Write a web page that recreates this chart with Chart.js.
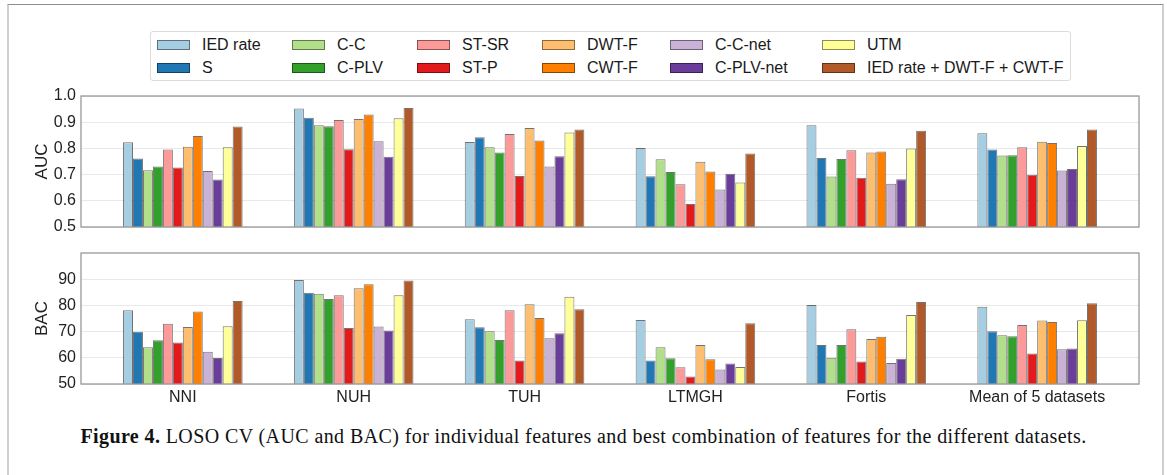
<!DOCTYPE html>
<html lang="en">
<head>
<meta charset="UTF-8">
<title>Figure 4 - LOSO CV</title>
<script src="https://cdn.jsdelivr.net/npm/chart.js"></script>
<style>
    body {
        margin: 0;
        background: #ffffff;
        font-family: 'Liberation Sans', Arial, sans-serif;
    }

    .page {
        position: relative;
        width: 1167px;
        height: 475px;
        overflow: hidden;
    }

    .frame {
        position: absolute;
        left: 7px;
        top: 4px;
        width: 1153px;
        height: 490px;
        border-top: 1px solid #8c8c8c;
        border-left: 2px solid #cfcfcf;
        border-right: 2px solid #cfcfcf;
    }

    .legend {
        position: absolute;
        left: 150px;
        top: 31px;
        width: 921px;
        height: 50px;
        box-sizing: border-box;
        border: 1px solid #dcdcdc;
        border-radius: 3px;
        padding: 1px 0 0 6px;
        display: grid;
        grid-auto-flow: column;
        grid-template-rows: 23px 23px;
        grid-template-columns: 135px 125px 125px 128px 152px auto;
        font-size: 16px;
        color: #1a1a1a;
    }

    .legend .item {
        display: flex;
        align-items: center;
        white-space: nowrap;
    }

    .legend .swatch {
        width: 31px;
        height: 8px;
        margin-right: 12px;
        border: 1px solid rgba(0, 0, 0, 0.45);
    }

    .plot {
        position: absolute;
        left: 0;
    }

    .caption {
        position: absolute;
        left: 0;
        top: 425px;
        width: 1167px;
        text-align: center;
        font-family: 'Liberation Serif', 'DejaVu Serif', serif;
        font-size: 20px;
        letter-spacing: 0.4px;
        color: #111;
    }
</style>
</head>
<body>
<div class="page">
    <div class="frame"></div>
    <div class="legend" id="legend"></div>
    <div class="plot" style="top:84px"><canvas id="aucChart" width="1167" height="152"></canvas></div>
    <div class="plot" style="top:240px"><canvas id="bacChart" width="1167" height="170"></canvas></div>
    <div class="caption"><b>Figure 4.</b> LOSO CV (AUC and BAC) for individual features and best combination of features for the different datasets.</div>
</div>

<script>
    // datasets on the x axis
    const categories = ['NNI', 'NUH', 'TUH', 'LTMGH', 'Fortis', 'Mean of 5 datasets'];

    // features (one bar per feature in each group)
    const features = ['IED rate', 'S', 'C-C', 'C-PLV', 'ST-SR', 'ST-P', 'DWT-F', 'CWT-F',
        'C-C-net', 'C-PLV-net', 'UTM', 'IED rate + DWT-F + CWT-F'];

    const colors = ['#a6cee3', '#1f78b4', '#b2df8a', '#33a02c', '#fb9a99', '#e31a1c',
        '#fdbf6f', '#ff7f00', '#cab2d6', '#6a3d9a', '#ffff99', '#b15928'];

    // AUC, one row per feature: NNI, NUH, TUH, LTMGH, Fortis, Mean
    const aucValues = [
        [0.823, 0.952, 0.824, 0.802, 0.888, 0.858],
        [0.761, 0.917, 0.843, 0.694, 0.763, 0.796],
        [0.717, 0.888, 0.804, 0.759, 0.693, 0.773],
        [0.731, 0.885, 0.784, 0.710, 0.760, 0.774],
        [0.796, 0.908, 0.855, 0.663, 0.793, 0.804],
        [0.727, 0.797, 0.695, 0.588, 0.688, 0.699],
        [0.806, 0.912, 0.878, 0.749, 0.784, 0.825],
        [0.847, 0.929, 0.830, 0.712, 0.788, 0.821],
        [0.714, 0.827, 0.731, 0.643, 0.665, 0.716],
        [0.681, 0.768, 0.770, 0.703, 0.682, 0.721],
        [0.804, 0.915, 0.861, 0.670, 0.800, 0.809],
        [0.884, 0.954, 0.872, 0.781, 0.867, 0.872]
    ];

    // BAC (%), same layout
    const bacValues = [
        [78.3, 89.9, 74.9, 74.6, 80.3, 79.7],
        [70.1, 85.0, 71.8, 59.0, 65.0, 70.3],
        [64.1, 84.7, 70.3, 64.1, 60.1, 68.7],
        [66.8, 82.6, 66.9, 59.9, 65.0, 68.3],
        [73.1, 84.1, 78.3, 56.4, 71.0, 72.7],
        [65.9, 71.5, 59.0, 52.9, 58.6, 61.7],
        [71.9, 86.8, 80.6, 65.0, 67.3, 74.4],
        [77.8, 88.3, 75.3, 59.5, 68.1, 73.8],
        [62.4, 72.1, 67.6, 55.6, 58.1, 63.3],
        [60.0, 70.5, 69.5, 57.9, 59.7, 63.6],
        [72.2, 84.1, 83.5, 56.5, 76.5, 74.5],
        [81.9, 89.7, 78.7, 73.3, 81.5, 81.0]
    ];

    const aucTicks = [0.5, 0.6, 0.7, 0.8, 0.9, 1.0];
    const bacTicks = [50, 60, 70, 80, 90];

    const tickFont = { family: "'Liberation Sans', Arial, sans-serif", size: 16 };
    const titleFont = { family: "'Liberation Sans', Arial, sans-serif", size: 17 };

    // legend: 2 rows, filled column by column like matplotlib
    const legendEl = document.getElementById('legend');
    features.forEach((name, i) => {
        const item = document.createElement('div');
        item.className = 'item';
        const sw = document.createElement('span');
        sw.className = 'swatch';
        sw.style.background = colors[i];
        item.appendChild(sw);
        item.appendChild(document.createTextNode(name));
        legendEl.appendChild(item);
    });

    // grey box around the plot area
    const framePlugin = {
        id: 'frame',
        afterDraw(chart) {
            const { ctx, chartArea: a } = chart;
            ctx.save();
            ctx.strokeStyle = '#999999';
            ctx.lineWidth = 1.3;
            ctx.strokeRect(a.left, a.top, a.right - a.left, a.bottom - a.top);
            ctx.restore();
        }
    };

    function buildDatasets(values) {
        return features.map((name, i) => ({
            label: name,
            data: values[i].map((v, j) => ({ x: j, y: v })),
            backgroundColor: colors[i],
            borderColor: 'rgba(0, 0, 0, 0.55)',
            borderWidth: 1,
            categoryPercentage: 0.7,
            barPercentage: 1.0
        }));
    }

    function makeChart(id, values, yMin, yMax, ticks, title, showX, padding) {
        const ctx = document.getElementById(id).getContext('2d');
        return new Chart(ctx, {
            type: 'bar',
            data: { datasets: buildDatasets(values) },
            options: {
                responsive: false,
                animation: false,
                layout: { padding: padding },
                plugins: { legend: { display: false }, tooltip: { enabled: false } },
                scales: {
                    x: {
                        type: 'linear',
                        display: showX,
                        offset: false,
                        min: -0.596,
                        max: 5.596,
                        grid: { display: false, drawTicks: false },
                        border: { display: false },
                        afterBuildTicks: s => { s.ticks = categories.map((c, i) => ({ value: i })); },
                        afterFit: s => {
                            s.height = showX ? 26 : 0;
                            s.paddingLeft = 0;
                            s.paddingRight = 0;
                        },
                        ticks: {
                            autoSkip: false,
                            maxRotation: 0,
                            padding: 4,
                            color: '#222',
                            font: tickFont,
                            callback: v => categories[v]
                        }
                    },
                    y: {
                        min: yMin,
                        max: yMax,
                        afterBuildTicks: s => { s.ticks = ticks.map(v => ({ value: v })); },
                        afterFit: s => {
                            s.width = 81;
                            s.paddingTop = 0;
                            s.paddingBottom = 0;
                        },
                        grid: { color: '#e9e9e9', lineWidth: 1, drawTicks: false },
                        border: { display: false },
                        ticks: {
                            autoSkip: false,
                            padding: 5,
                            color: '#222',
                            font: tickFont,
                            callback: v => (yMax <= 1 ? v.toFixed(1) : v)
                        },
                        title: {
                            display: true,
                            text: title,
                            color: '#222',
                            font: titleFont,
                            padding: { top: 32, bottom: 0 }
                        }
                    }
                }
            },
            plugins: [framePlugin]
        });
    }

    makeChart('aucChart', aucValues, 0.5, 1.0, aucTicks, 'AUC', false,
        { top: 12, right: 28, bottom: 9, left: 0 });
    makeChart('bacChart', bacValues, 50, 100.3, bacTicks, 'BAC', true,
        { top: 13, right: 28, bottom: 0, left: 0 });
</script>
</body>
</html>
